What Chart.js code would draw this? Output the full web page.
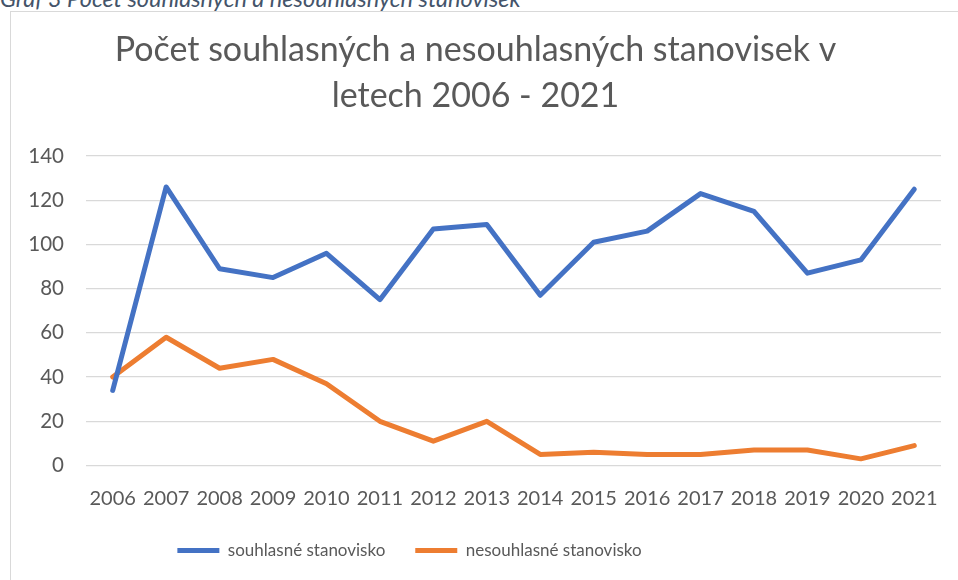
<!DOCTYPE html>
<html><head><meta charset="utf-8">
<script src="https://cdn.jsdelivr.net/npm/chart.js@4/dist/chart.umd.min.js"></script>
<style>
html,body{margin:0;padding:0;background:#fff;width:958px;height:580px;overflow:hidden;}
#frame{position:absolute;left:10px;top:11px;width:1000px;height:700px;border:1px solid #d9d9d9;box-sizing:border-box;}
#cap{position:absolute;left:0;top:-16px;font-family:Lato,sans-serif;font-style:italic;font-size:23.5px;color:#44546A;white-space:nowrap;line-height:normal;}
#wrap{position:absolute;left:0;top:0;width:958px;height:580px;}
</style></head>
<body>
<div id="cap">Graf 3 Počet souhlasných a nesouhlasných stanovisek</div>
<div id="frame"></div>
<div id="wrap"><canvas id="c" width="958" height="580"></canvas></div>
<script>
const years = ['2006','2007','2008','2009','2010','2011','2012','2013','2014','2015','2016','2017','2018','2019','2020','2021'];
const souhlasne = [34,126,89,85,96,75,107,109,77,101,106,123,115,87,93,125];
const nesouhlasne = [40,58,44,48,37,20,11,20,5,6,5,5,7,7,3,9];
const titleLines = ['Počet souhlasných a nesouhlasných stanovisek v','letech 2006 - 2021'];
const seriesNames = ['souhlasné stanovisko','nesouhlasné stanovisko'];

const txt = '#595959';
const legendShift = {
  id:'legendShift',
  afterLayout(chart){ if(chart.legend){ chart.legend.left -= 66; chart.legend.right -= 66; } }
};
new Chart(document.getElementById('c'), {
  type: 'line',
  data: {
    labels: years,
    datasets: [
      {label: seriesNames[0], data: souhlasne, borderColor:'#4472C4', backgroundColor:'#4472C4', borderWidth:5, pointRadius:0, tension:0, borderCapStyle:'round', borderJoinStyle:'round'},
      {label: seriesNames[1], data: nesouhlasne, borderColor:'#ED7D31', backgroundColor:'#ED7D31', borderWidth:5, pointRadius:0, tension:0, borderCapStyle:'round', borderJoinStyle:'round'}
    ]
  },
  plugins:[legendShift],
  options: {
    responsive:false, animation:false,
    layout:{padding:{left:10,right:17,top:27,bottom:11}},
    plugins:{
      title:{display:true,text:titleLines,color:txt,font:{family:'Lato',size:34,weight:'normal',lineHeight:1.353},padding:{top:0,bottom:37}},
      legend:{position:'bottom',labels:{usePointStyle:true,pointStyle:'line',pointStyleWidth:42,boxHeight:10,color:txt,font:{family:'Lato',size:17},padding:30}},
      tooltip:{enabled:false}
    },
    scales:{
      x:{offset:true,grid:{display:false},border:{display:false},ticks:{color:txt,font:{family:'Lato',size:20},padding:13,maxRotation:0,autoSkip:false},
         afterFit:(s)=>{s.height=46.5;}},
      y:{min:0,max:140,ticks:{stepSize:20,color:txt,font:{family:'Lato',size:20.5},padding:22},grid:{color:'#d9d9d9',lineWidth:1.3,drawTicks:false},border:{display:false},
         afterFit:(s)=>{s.width=76;}}
    }
  }
});
</script>
</body></html>
